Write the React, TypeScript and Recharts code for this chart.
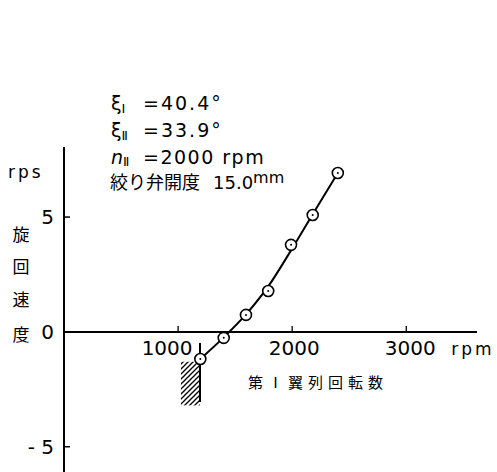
import {
  ComposedChart,
  Line,
  Scatter,
  XAxis,
  YAxis,
  ReferenceLine,
  ReferenceDot,
  ReferenceArea,
} from "recharts";

// rpm of the 1st cascade, swirl speed (rps)
const rpmTicks = [1000, 2000, 3000];
const rpsTicks = [-5, 0, 5];

const measuredRpm = [1195, 1400, 1595, 1790, 1990, 2180, 2400];
const measuredRps = [-1.18, -0.26, 0.74, 1.78, 3.79, 5.09, 6.92];

// faired curve at the same speeds
const curveRps = [-1.18, -0.24, 0.76, 1.98, 3.55, 5.12, 6.92];

const xMax = 3620;
const yMin = -6.1;
const yMax = 8.05;

// stall limit (hatched wall)
const wallRpm = 1192;
const wallTop = -0.48;
const wallBottom = -3.05;
const hatchLeft = 1025;
const hatchTop = -1.3;
const hatchBottom = -3.2;

const points = measuredRpm.map((rpm, i) => ({ rpm, rps: measuredRps[i] }));
const curve = measuredRpm.map((rpm, i) => ({ rpm, rps: curveRps[i] }));

const NUM_FONT = "'DejaVu Sans', sans-serif";
const JP_FONT = "'Noto Sans CJK JP', sans-serif";

// label nudges so the 1000 label clears the wall line
const tickDx: Record<number, number> = { 1000: -11, 2000: 2, 3000: 4 };

const OpenDot = (props: any) => {
  const { cx, cy } = props;
  return (
    <g>
      <circle cx={cx} cy={cy} r={5.5} fill="#fff" stroke="#000" strokeWidth={1.6} />
      <circle cx={cx} cy={cy} r={1} fill="#000" />
    </g>
  );
};

const XTick = (value: number) => (props: any) => {
  const { cx, cy } = props;
  return (
    <g>
      <line x1={cx} y1={cy} x2={cx} y2={cy - 6} stroke="#000" strokeWidth={1.3} />
      <text
        x={cx + (tickDx[value] || 0)}
        y={cy + 23}
        textAnchor="middle"
        fontSize={20}
        fontFamily={NUM_FONT}
        fill="#000"
      >
        {value}
      </text>
    </g>
  );
};

const UnitLabel = (props: any) => {
  const { cx, cy } = props;
  return (
    <text
      x={cx - 4}
      y={cy + 23}
      textAnchor="middle"
      fontSize={17}
      letterSpacing={3}
      fontFamily={NUM_FONT}
      fill="#000"
    >
      rpm
    </text>
  );
};

export default function App() {
  return (
    <div style={{ position: "absolute", left: 0, top: 0, background: "#fff" }}>
      <ComposedChart
        width={497}
        height={472}
        margin={{ top: 147, right: 20, bottom: 0, left: 0 }}
      >
        <defs>
          <pattern id="hatch" patternUnits="userSpaceOnUse" width={5} height={5}>
            <line x1={0} y1={5} x2={5} y2={0} stroke="#000" strokeWidth={1.3} />
            <line x1={-1} y1={1} x2={1} y2={-1} stroke="#000" strokeWidth={1.3} />
            <line x1={4} y1={6} x2={6} y2={4} stroke="#000" strokeWidth={1.3} />
          </pattern>
        </defs>
        <XAxis type="number" dataKey="rpm" domain={[0, xMax]} hide allowDataOverflow />
        <YAxis
          type="number"
          dataKey="rps"
          domain={[yMin, yMax]}
          ticks={rpsTicks}
          width={64}
          allowDataOverflow
          axisLine={{ stroke: "#000", strokeWidth: 2 }}
          tickLine={{ stroke: "#000", strokeWidth: 1.5 }}
          tickSize={-6}
          tickMargin={16}
          tick={{ fill: "#000", fontSize: 20, fontFamily: NUM_FONT }}
          tickFormatter={(v) => (v < 0 ? `- ${Math.abs(v)}` : `${v}`)}
        />
        <ReferenceArea
          x1={hatchLeft}
          x2={wallRpm}
          y1={hatchBottom}
          y2={hatchTop}
          fill="url(#hatch)"
          fillOpacity={1}
          stroke="none"
        />
        <ReferenceLine
          segment={[
            { x: wallRpm, y: wallTop },
            { x: wallRpm, y: wallBottom },
          ]}
          stroke="#000"
          strokeWidth={2}
        />
        <ReferenceLine y={0} stroke="#000" strokeWidth={2} />
        {rpmTicks.map((t) => (
          <ReferenceDot key={t} x={t} y={0} ifOverflow="visible" shape={XTick(t)} />
        ))}
        <ReferenceDot x={xMax} y={0} ifOverflow="visible" shape={UnitLabel} />
        <Line
          data={curve}
          dataKey="rps"
          type="monotone"
          stroke="#000"
          strokeWidth={2}
          dot={false}
          activeDot={false}
          isAnimationActive={false}
        />
        <Scatter data={points} dataKey="rps" shape={OpenDot} isAnimationActive={false} />

        {/* conditions */}
        <g fill="#000" fontFamily={NUM_FONT} fontSize={19}>
          <text x={111} y={110}>
            ξ<tspan fontSize={13} dy={3}>Ⅰ</tspan>
          </text>
          <text x={143} y={110} letterSpacing={2}>=40.4°</text>
          <text x={111} y={137}>
            ξ<tspan fontSize={13} dy={3}>Ⅱ</tspan>
          </text>
          <text x={143} y={137} letterSpacing={2}>=33.9°</text>
          <text x={111} y={164} fontStyle="italic">
            n<tspan fontSize={13} dy={2} fontStyle="normal">Ⅱ</tspan>
          </text>
          <text x={143} y={164} letterSpacing={1.5}>=2000 rpm</text>
          <text x={110} y={189} fontFamily={JP_FONT} fontSize={18}>絞り弁開度</text>
          <text x={213} y={189} fontSize={18}>
            15.0<tspan fontSize={16} dy={-6}>mm</tspan>
          </text>
        </g>

        {/* axis titles */}
        <text x={8} y={178} fontSize={17} letterSpacing={3} fontFamily={NUM_FONT} fill="#000">
          rps
        </text>
        <text x={21} y={241} fontSize={17} fontFamily={JP_FONT} fill="#000" textAnchor="middle">
          <tspan x={21}>旋</tspan>
          <tspan x={21} dy={32}>回</tspan>
          <tspan x={21} dy={33}>速</tspan>
          <tspan x={21} dy={35}>度</tspan>
        </text>
        <text x={248} y={388} fontSize={15} letterSpacing={5} fontFamily={JP_FONT} fill="#000">
          第Ⅰ翼列回転数
        </text>
      </ComposedChart>
    </div>
  );
}
